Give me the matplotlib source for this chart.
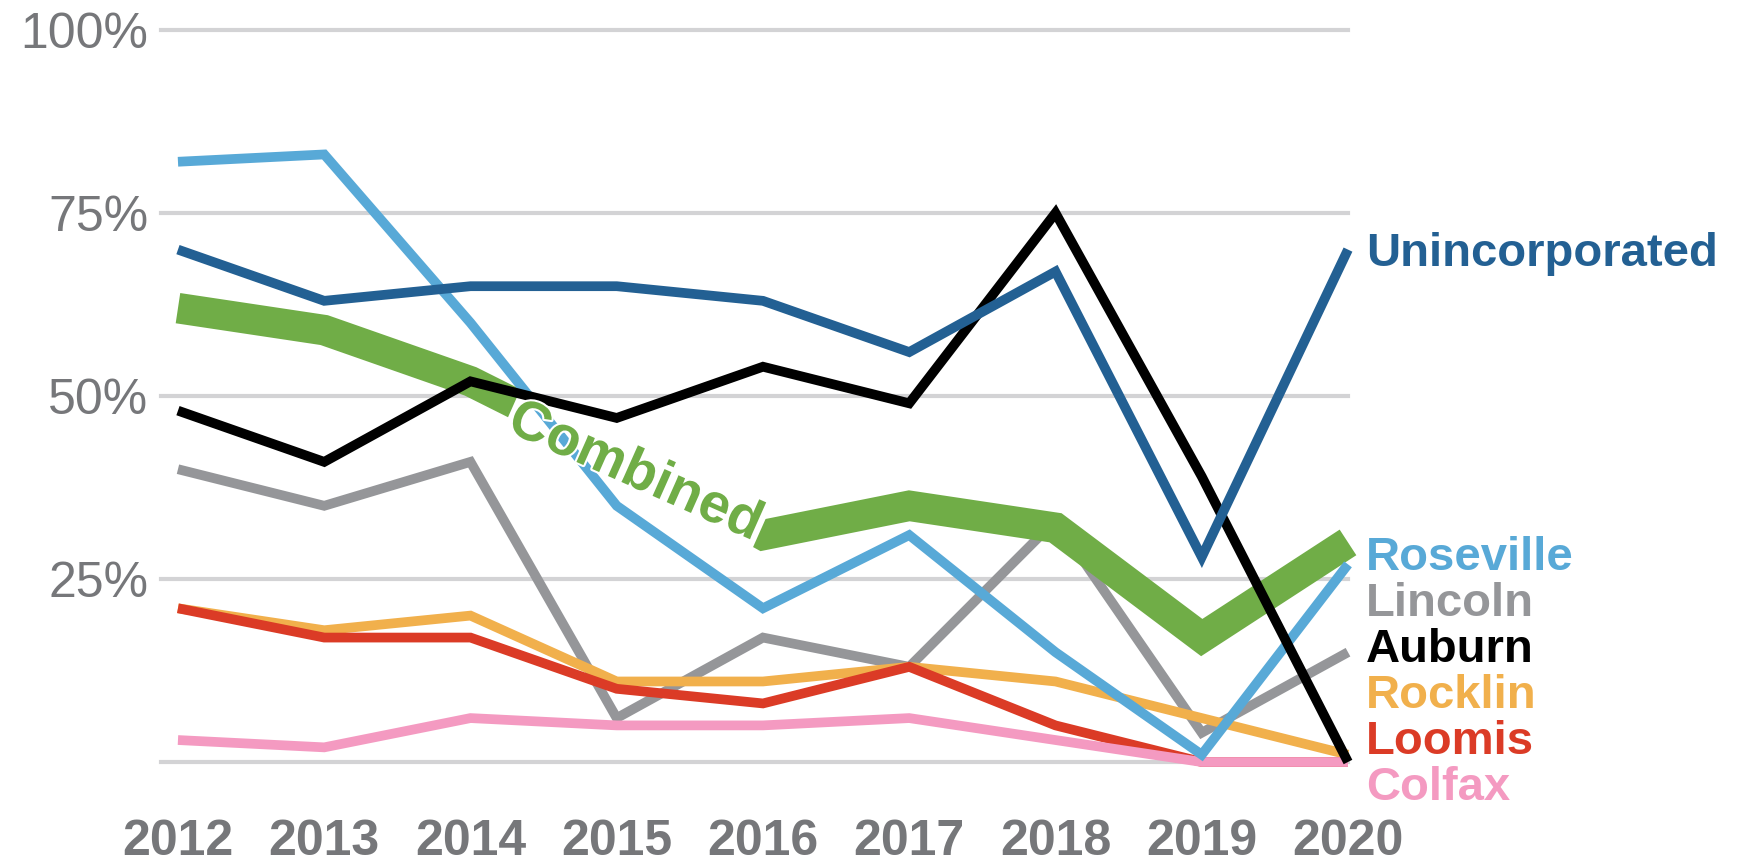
import matplotlib
matplotlib.use('Agg')
import matplotlib.pyplot as plt
import matplotlib.patheffects as pe

years = [2012, 2013, 2014, 2015, 2016, 2017, 2018, 2019, 2020]

roseville = [82, 83, 60, 35, 21, 31, 15, 1, 27]
unincorporated = [70, 63, 65, 65, 63, 56, 67, 28, 70]
combined = [62, 59, 52, 42, 31, 35, 32, 17, 30]
auburn = [48, 41, 52, 47, 54, 49, 75, 39, 0]
lincoln = [40, 35, 41, 6, 17, 13, 33, 4, 15]
rocklin = [21, 18, 20, 11, 11, 13, 11, 6, 1]
loomis = [21, 17, 17, 10, 8, 13, 5, 0, 0]
colfax = [3, 2, 6, 5, 5, 6, 3, 0, 0]

y_ticks = [0, 25, 50, 75, 100]
y_labels = ['', '25%', '50%', '75%', '100%']

GRAY_TEXT = '#76777a'
GRID = '#d3d3d5'
GREEN = '#70ad47'
FONT = ['Liberation Sans', 'DejaVu Sans']

# drawing order: first is lowest
series = [
  ('Lincoln', lincoln, '#959699'),
  ('Rocklin', rocklin, '#f1b04c'),
  ('Loomis', loomis, '#db3b26'),
  ('Colfax', colfax, '#f49ac1'),
  ('Roseville', roseville, '#58a9d7'),
  ('Auburn', auburn, '#000000'),
  ('Unincorporated', unincorporated, '#236093'),
]
legend_order = ['Unincorporated', 'Roseville', 'Lincoln', 'Auburn',
                'Rocklin', 'Loomis', 'Colfax']
colors = {name: c for name, _, c in series}

W, H = 1747, 867
fig = plt.figure(figsize=(W / 100, H / 100), dpi=100)
ax = fig.add_axes([161 / W, (H - 762) / H, 1187 / W, 732 / H])

ax.set_xlim(2011.884, 2020)
ax.set_ylim(0, 100)

for y in y_ticks:
  ax.axhline(y, color=GRID, lw=3, zorder=0, clip_on=False)

line_kw = dict(solid_capstyle='butt', solid_joinstyle='miter', clip_on=False)

name, vals, c = series[0]
ax.plot(years, vals, color=c, lw=7, zorder=2, **line_kw)

ax.plot(years, combined, color=GREEN, lw=22, zorder=3, **line_kw)

for i, (name, vals, c) in enumerate(series[1:]):
  ax.plot(years, vals, color=c, lw=7, zorder=5 + i, **line_kw)

# label sits in a gap cut out of the combined line
lab_kw = dict(xytext=(13, -13), textcoords='offset points', ha='center',
              va='center', rotation=-24, fontsize=40, fontweight='bold',
              family=FONT)
ax.annotate('Combined', (years[3], combined[3]), color='white', zorder=4,
            bbox=dict(boxstyle='square,pad=0.05', fc='white', ec='none'),
            **lab_kw)
ax.annotate('Combined', (years[3], combined[3]), color=GREEN, zorder=20,
            path_effects=[pe.withStroke(linewidth=3, foreground='white')],
            **lab_kw)

ax.set_yticks(y_ticks)
ax.set_yticklabels(y_labels)
ax.set_xticks(years)
ax.set_xticklabels([str(y) for y in years])
ax.tick_params(axis='both', length=0)
ax.tick_params(axis='y', pad=9, labelsize=36, labelcolor=GRAY_TEXT)
ax.tick_params(axis='x', pad=41, labelsize=36, labelcolor=GRAY_TEXT)
for lab in ax.get_yticklabels():
  lab.set_family(FONT)
for lab in ax.get_xticklabels():
  lab.set_family(FONT)
  lab.set_fontweight('bold')

for s in ax.spines.values():
  s.set_visible(False)

# end labels
first_base = 266
stack_base = 570
step = 46
for i, name in enumerate(legend_order):
  base = first_base if i == 0 else stack_base + (i - 1) * step
  fig.text(1366 / W, 1 - base / H, name, ha='left', va='baseline',
           fontsize=34, fontweight='bold', color=colors[name], family=FONT)

fig.savefig('out.png', dpi=100)
